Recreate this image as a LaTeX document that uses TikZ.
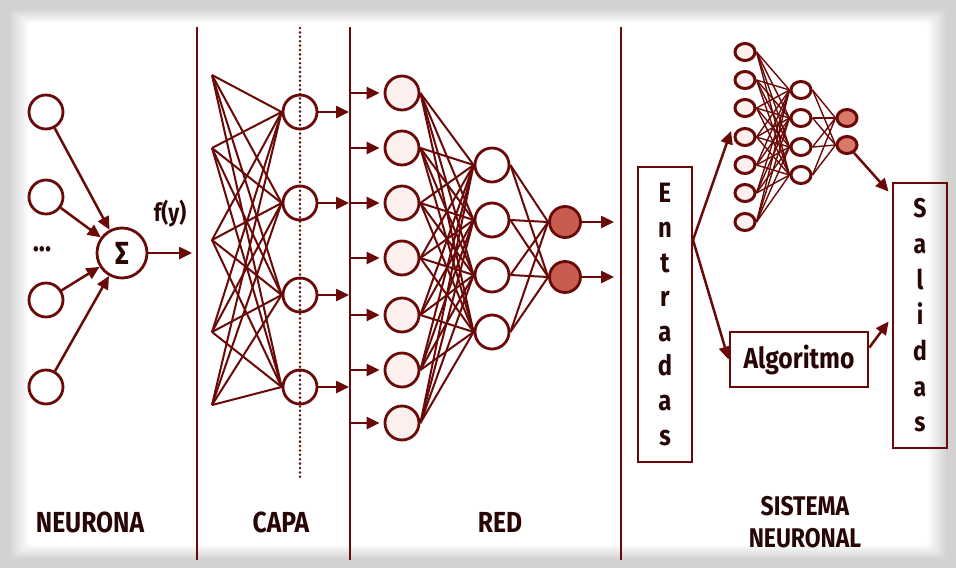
\documentclass[tikz,border=0pt]{standalone}
\usepackage{fontspec}
\setmainfont{Fira Sans}[FakeStretch=0.85]
\usetikzlibrary{arrows.meta,calc,shapes.geometric}
\definecolor{dred}{RGB}{105,10,8}
\definecolor{ink}{RGB}{40,6,6}
\definecolor{outfill}{RGB}{200,92,78}
\definecolor{soutfill}{RGB}{218,120,105}
\definecolor{infill}{RGB}{252,240,238}
\definecolor{shad}{RGB}{210,210,210}
\begin{document}
\begin{tikzpicture}[x=1pt,y=-1pt,
  neu/.style={circle,draw=dred,line width=2.8pt,minimum size=34pt,inner sep=0pt,fill=white},
  rin/.style={neu,fill=infill},
  rout/.style={neu,fill=outfill,minimum size=31pt},
  sneu/.style={ellipse,draw=dred,line width=3pt,minimum width=20pt,minimum height=17pt,inner sep=0pt,fill=infill},
  sout/.style={sneu,fill=soutfill},
  link/.style={draw=dred,line width=2pt},
  slink/.style={draw=dred,line width=1.4pt},
  arr/.style={draw=dred,line width=2.5pt,-{Triangle[length=13pt,width=12pt]}},
  sep/.style={draw=dred,line width=2.4pt},
  lab/.style={text=ink,font=\bfseries\fontsize{29}{30}\selectfont,inner sep=0pt},
  boxn/.style={draw=dred,line width=2.8pt,inner sep=0pt,text=ink,align=center}
]
% background with soft shadow frame
\fill[shad] (0,0) rectangle (956,568);
\foreach \k in {0,...,10} {
  \pgfmathtruncatemacro\m{\k*10}
  \fill[white!\m!shad,rounded corners=4pt] (8+2*\k,8+1.5*\k) rectangle (948-2*\k,560-1.5*\k);
}
\useasboundingbox (0,0) rectangle (956,568);

% separators
\draw[sep] (197,27) -- (197,560);
\draw[sep] (350,27) -- (350,560);
\draw[sep] (621,27) -- (621,560);

% ---------------- NEURONA
\foreach \i/\y in {1/112,2/197,3/300,4/387}
  \node[neu] (n\i) at (46,\y) {};
\node[neu,minimum size=50pt,text=ink,font=\bfseries\fontsize{32}{34}\selectfont] (sig) at (122,253) {Σ};
\node[text=ink,font=\bfseries\fontsize{30}{30}\selectfont] (dots) at (42,249) {...};
\foreach \i in {1,...,4} \draw[arr] (n\i) -- (sig);
\coordinate (fyend) at (192,253);
\draw[arr] (sig) -- (fyend);
\node[text=ink,font=\bfseries\fontsize{25}{27}\selectfont] (fy) at (170,214) {f(y)};

% ---------------- CAPA
\foreach \i/\y in {1/75,2/148,3/240,4/332,5/405}
  \coordinate (p\i) at (212,\y);
\foreach \j/\y in {1/112,2/203,3/295,4/387}
  \node[neu] (c\j) at (300,\y) {};
\foreach \i in {1,...,5} \foreach \j in {1,...,4}
  \draw[link] (p\i) -- (c\j.west);
\draw[dred,line width=2.8pt,line cap=round,dash pattern=on 0pt off 4.4pt] (300,28) -- (300,478);
\foreach \j/\y in {1/112,2/203,3/295,4/387} {
  \coordinate (ct\j) at (349,\y);
  \draw[arr] (c\j) -- (ct\j);
}

% ---------------- RED
\foreach \i/\y in {1/93,2/148,3/203,4/258,5/315,6/370,7/423} {
  \node[rin] (r\i) at (402,\y) {};
  \coordinate (rt\i) at (350,\y);
  \draw[arr,shorten >=4pt] (rt\i) -- (r\i);
}
\foreach \j/\y in {1/165,2/220,3/275,4/332}
  \node[neu] (h\j) at (492,\y) {};
\foreach \k/\y in {1/222,2/277}
  \node[rout] (o\k) at (565,\y) {};
\foreach \i in {1,...,7} \foreach \j in {1,...,4}
  \draw[link] (r\i.east) -- (h\j.west);
\foreach \j in {1,...,4} \foreach \k in {1,2}
  \draw[link] (h\j.east) -- (o\k.west);
\foreach \k/\y in {1/222,2/277} {
  \coordinate (ot\k) at (614,\y);
  \draw[arr] (o\k) -- (ot\k);
}

% ---------------- SISTEMA NEURONAL
\foreach \i/\y in {1/52,2/80,3/108,4/137,5/165,6/193,7/222}
  \node[sneu] (s\i) at (745,\y) {};
\foreach \j/\y in {1/90,2/118,3/147,4/175}
  \node[sneu,fill=white] (sh\j) at (801,\y) {};
\foreach \k/\y in {1/118,2/145}
  \node[sout] (so\k) at (847,\y) {};
\foreach \i in {1,...,7} \foreach \j in {1,...,4}
  \draw[slink] (s\i.east) -- (sh\j.west);
\foreach \j in {1,...,4} \foreach \k in {1,2}
  \draw[slink] (sh\j.east) -- (so\k.west);

\node[boxn,minimum width=54pt,minimum height=295pt,font=\bfseries\fontsize{28}{34.6}\selectfont] (ent) at (665,314.5)
  {E\\n\\t\\r\\a\\d\\a\\s};
\node[boxn,minimum width=54pt,minimum height=265pt,font=\bfseries\fontsize{27}{35.7}\selectfont] (sal) at (920,315.5)
  {S\\a\\l\\i\\d\\a\\s};
\node[boxn,minimum width=138pt,minimum height=55pt,font=\bfseries\fontsize{29}{30}\selectfont] (alg) at (799,359.5)
  {Algoritmo};

\coordinate (es) at (693,240);
\coordinate (tipnet) at (731,131);
\draw[arr] (es) -- (tipnet);
\draw[arr] (es) -- (alg.west);
\draw[arr] (so2) -- ($(sal.north west)+(-3,10)$);
\draw[arr] ($(alg.east)+(0,-12)$) -- ($(sal.west)+(-3,6)$);

% ---------------- labels
\node[lab] (lneu) at (90,522) {NEURONA};
\node[lab] (lcapa) at (281,522) {CAPA};
\node[lab] (lred) at (500,522) {RED};
\node[lab,align=center,font=\bfseries\fontsize{27}{32}\selectfont] (lsis) at (805,522) {SISTEMA\\NEURONAL};
\end{tikzpicture}
\end{document}
